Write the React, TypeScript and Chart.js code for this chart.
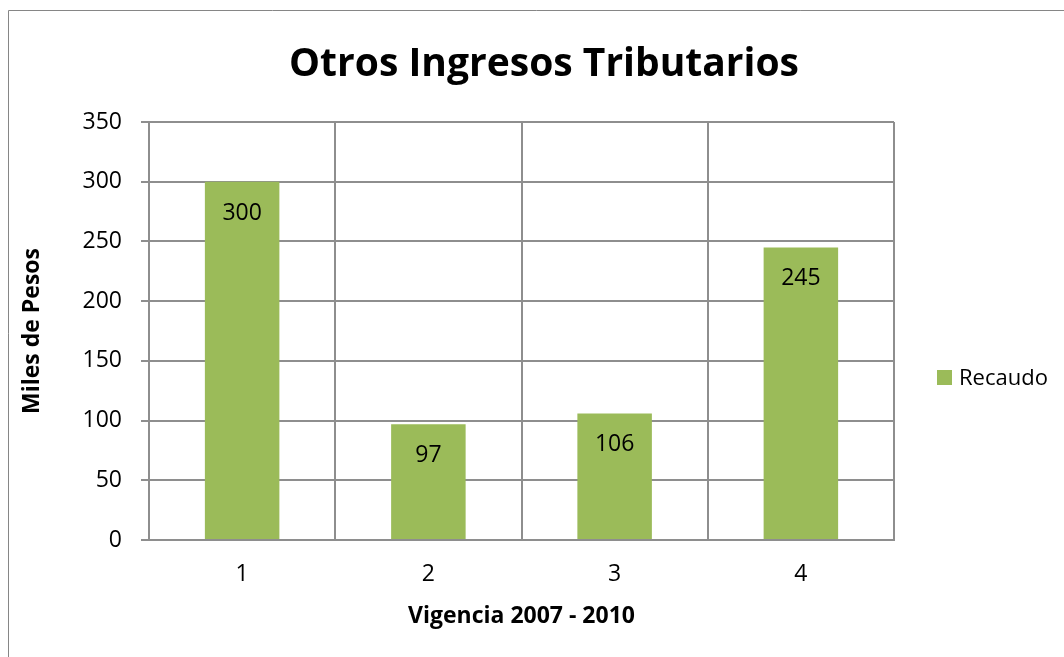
import React, { useEffect, useRef } from "react";
import { Chart, registerables } from "chart.js";

Chart.register(...registerables);

const TITLE = "Otros Ingresos Tributarios";
const CATEGORIES = ["1", "2", "3", "4"];
const SERIES_LABEL = "Recaudo";
const RECAUDO = [300, 97, 106, 245];
const Y_TICKS = [0, 50, 100, 150, 200, 250, 300, 350];
const X_TITLE = "Vigencia 2007 - 2010";
const Y_TITLE = "Miles de Pesos";

const FONT = "'Open Sans', 'Noto Sans', sans-serif";
const GRID = "#8e8e8e";
const BAR = "#9BBB59";
const W = 1064;
const H = 657;

const decor = {
  id: "decor",
  beforeDraw(chart: any) {
    const ctx = chart.ctx;
    ctx.save();
    ctx.fillStyle = "#ffffff";
    ctx.fillRect(0, 0, chart.width, chart.height);
    ctx.strokeStyle = "#868686";
    ctx.lineWidth = 1;
    ctx.beginPath();
    ctx.moveTo(8.5, chart.height);
    ctx.lineTo(8.5, 10.5);
    ctx.lineTo(chart.width, 10.5);
    ctx.stroke();
    ctx.restore();
  },
  afterDraw(chart: any) {
    const ctx = chart.ctx;
    ctx.save();
    ctx.fillStyle = "#000000";
    // title
    ctx.font = `bold 39px ${FONT}`;
    ctx.textAlign = "center";
    ctx.textBaseline = "alphabetic";
    ctx.fillText(TITLE, 544, 76);
    // data labels
    const ds = chart.data.datasets[0];
    const meta = chart.getDatasetMeta(0);
    ctx.font = `23px ${FONT}`;
    meta.data.forEach((el: any, i: number) => {
      ctx.fillText(String(ds.data[i]), el.x, el.y + 38);
    });
    // legend
    ctx.fillStyle = ds.backgroundColor;
    ctx.fillRect(937, 370, 15, 15);
    ctx.fillStyle = "#000000";
    ctx.font = `22px ${FONT}`;
    ctx.textAlign = "left";
    ctx.fillText(ds.label, 959, 385);
    ctx.restore();
  },
};

export default function App() {
  const ref = useRef<HTMLCanvasElement | null>(null);

  useEffect(() => {
    if (!ref.current) return;
    const chart = new Chart(ref.current, {
      type: "bar",
      data: {
        labels: CATEGORIES,
        datasets: [
          {
            label: SERIES_LABEL,
            data: RECAUDO,
            backgroundColor: BAR,
            borderWidth: 0,
            barPercentage: 0.4,
            categoryPercentage: 1.0,
          },
        ],
      },
      options: {
        responsive: false,
        animation: false,
        devicePixelRatio: 1,
        layout: { padding: { top: 122, right: 170, bottom: 0, left: 0 } },
        plugins: {
          legend: { display: false },
          title: { display: false },
          tooltip: { enabled: false },
        },
        scales: {
          x: {
            grid: { offset: true, color: GRID, drawTicks: false, lineWidth: 2 },
            border: { color: GRID, width: 2 },
            ticks: { color: "#000", font: { family: FONT, size: 23 }, padding: 21 },
            title: {
              display: true,
              text: X_TITLE,
              color: "#000",
              font: { family: FONT, size: 23, weight: "bold" },
              padding: { top: 0, bottom: 27 },
            },
            afterFit: (s: any) => {
              s.height = 117;
            },
          },
          y: {
            min: 0,
            max: 350,
            grid: { color: GRID, tickLength: 8, lineWidth: 2 },
            border: { color: GRID, width: 2 },
            ticks: { color: "#000", font: { family: FONT, size: 23 }, padding: 19 },
            afterBuildTicks: (s: any) => {
              s.ticks = Y_TICKS.map((v) => ({ value: v }));
            },
            title: {
              display: true,
              text: Y_TITLE,
              color: "#000",
              font: { family: FONT, size: 23, weight: "bold" },
              padding: { top: 19, bottom: 0 },
            },
            afterFit: (s: any) => {
              s.width = 149;
            },
          },
        },
      },
      plugins: [decor],
    } as any);
    return () => chart.destroy();
  }, []);

  return (
    <canvas
      ref={ref}
      width={W}
      height={H}
      style={{ position: "fixed", left: 0, top: 0, width: W, height: H, display: "block" }}
    />
  );
}
